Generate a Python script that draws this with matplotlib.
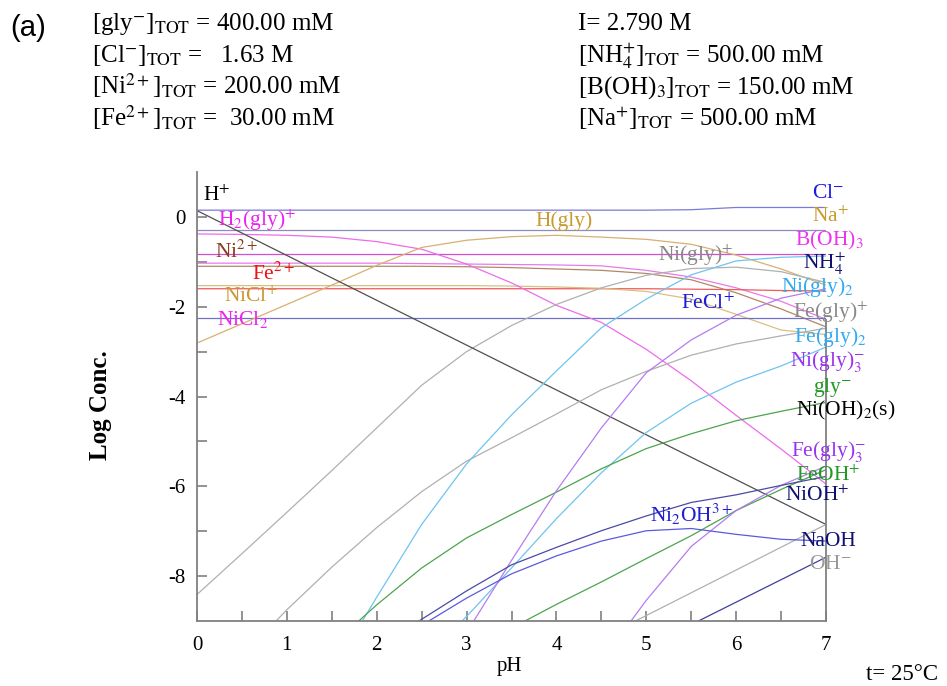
import matplotlib
matplotlib.use("Agg")
import matplotlib.pyplot as plt
import numpy as np

plt.rcParams['font.family'] = ['Liberation Serif', 'DejaVu Serif']
plt.rcParams['mathtext.fontset'] = 'stix'
plt.rcParams['axes.unicode_minus'] = False

# ---------------- data ----------------
ph_full = [0, 0.5, 1, 1.5, 2, 2.5, 3, 3.5, 4, 4.5, 5, 5.5, 6, 6.5, 7]

cl = [0.15, 0.15, 0.15, 0.15, 0.15, 0.15, 0.15, 0.15, 0.15, 0.15, 0.15, 0.16, 0.21, 0.21, 0.21]
na = [-0.30, -0.30, -0.30, -0.30, -0.30, -0.30, -0.30, -0.30, -0.30, -0.30, -0.30, -0.30, -0.30, -0.30, -0.30]
boh3 = [-0.82, -0.82, -0.82, -0.82, -0.82, -0.82, -0.82, -0.82, -0.82, -0.82, -0.82, -0.82, -0.82, -0.82, -0.82]
nicl2 = [-1.03, -1.03, -1.03, -1.03, -1.03, -1.04, -1.05, -1.06, -1.07, -1.09, -1.19, -1.34, -1.58, -1.88, -2.28]
ni2 = [-1.10, -1.10, -1.10, -1.10, -1.10, -1.10, -1.11, -1.13, -1.16, -1.19, -1.26, -1.40, -1.69, -2.05, -2.45]
fe2 = [-1.60, -1.60, -1.60, -1.60, -1.60, -1.60, -1.60, -1.60, -1.60, -1.60, -1.60, -1.61, -1.62, -1.64, -1.65]
nicl = [-1.53, -1.53, -1.53, -1.53, -1.53, -1.53, -1.53, -1.54, -1.56, -1.59, -1.66, -1.83, -2.17, -2.52, -2.62]
fecl = [-2.26, -2.26, -2.26, -2.26, -2.26, -2.26, -2.26, -2.26, -2.26, -2.26, -2.26, -2.26, -2.26, -2.26, -2.26]
h2gly = [-0.38, -0.39, -0.41, -0.45, -0.55, -0.72, -1.05, -1.47, -1.97, -2.35, -2.95, -3.65, -4.42, -5.17, -5.95]
hgly = [-2.81, -2.38, -1.95, -1.52, -1.08, -0.68, -0.52, -0.44, -0.41, -0.45, -0.50, -0.61, -0.85, -1.16, -1.52]
nigly = [-8.41, -7.50, -6.58, -5.65, -4.70, -3.75, -3.00, -2.42, -1.95, -1.58, -1.30, -1.15, -1.12, -1.22, -1.46]

ph_h = [0, 7]
h_plus = [0.14, -6.85]
ph_oh = [4.88, 7]
oh_minus = [-9.0, -6.85]
ph_naoh = [5.58, 7]
naoh = [-9.0, -7.58]

ph_fegly = [0.88, 1, 1.5, 2, 2.5, 3, 3.5, 4, 4.5, 5, 5.5, 6, 6.5, 7]
fegly = [-9.0, -8.75, -7.80, -6.92, -6.12, -5.44, -4.92, -4.39, -3.85, -3.44, -3.08, -2.83, -2.65, -2.48]

ph_nigly2 = [1.84, 2, 2.5, 3, 3.5, 4, 4.5, 5, 5.5, 6, 6.5, 7]
nigly2 = [-9.0, -8.47, -6.85, -5.50, -4.41, -3.43, -2.47, -1.83, -1.29, -0.98, -0.90, -0.87]

ph_fegly2 = [2.95, 3, 3.5, 4, 4.5, 5, 5.5, 6, 6.5, 7]
fegly2 = [-9.0, -8.90, -7.82, -6.72, -5.70, -4.80, -4.15, -3.68, -3.32, -2.90]

ph_gly = [1.8, 2, 2.5, 3, 3.5, 4, 4.5, 5, 5.5, 6, 6.5, 7]
gly = [-9.0, -8.64, -7.82, -7.15, -6.63, -6.13, -5.61, -5.16, -4.83, -4.54, -4.33, -4.13]

ph_feoh = [3.65, 4, 4.5, 5, 5.5, 6, 6.5, 7]
feoh = [-9.0, -8.63, -8.13, -7.61, -7.10, -6.54, -6.07, -5.63]

ph_nigly3 = [3.08, 3.5, 4, 4.5, 5, 5.5, 6, 6.5, 7]
nigly3 = [-9.0, -7.65, -6.10, -4.70, -3.47, -2.74, -2.19, -1.81, -1.60]

ph_fegly3 = [4.83, 5, 5.5, 6, 6.5, 7]
fegly3 = [-9.0, -8.54, -7.34, -6.54, -5.98, -5.55]

ph_ni2oh = [2.58, 3, 3.5, 4, 4.5, 5, 5.5, 6, 6.5, 7]
ni2oh = [-9.0, -8.49, -7.95, -7.55, -7.22, -6.99, -6.94, -7.07, -7.18, -7.22]

ph_nioh = [2.47, 3, 3.5, 4, 4.5, 5, 5.5, 6, 6.5, 7]
nioh = [-9.0, -8.33, -7.75, -7.36, -6.99, -6.66, -6.36, -6.19, -5.98, -5.78]

header_left = [
    "[gly$^{-}$]$_{\\mathrm{TOT}}$ = 400.00 mM",
    "[Cl$^{-}$]$_{\\mathrm{TOT}}$ =   1.63 M",
    "[Ni$^{2+}$]$_{\\mathrm{TOT}}$ = 200.00 mM",
    "[Fe$^{2+}$]$_{\\mathrm{TOT}}$ =  30.00 mM",
]
header_right = [
    "I= 2.790 M",
    "[NH$_{4}^{+}$]$_{\\mathrm{TOT}}$ = 500.00 mM",
    "[B(OH)$_{3}$]$_{\\mathrm{TOT}}$ = 150.00 mM",
    "[Na$^{+}$]$_{\\mathrm{TOT}}$ = 500.00 mM",
]

# ---------------- figure ----------------
W, H = 947, 686
fig = plt.figure(figsize=(W / 100, H / 100), dpi=100)
ax = fig.add_axes([197 / W, 65 / H, 629 / W, 449 / H])

series = [
    (ph_full, cl, '#7a7ad8'),
    (ph_full, na, '#8c8cc0'),
    (ph_full, boh3, '#d24fd2'),
    (ph_full, nicl2, '#e87ae8'),
    (ph_full, ni2, '#b08868'),
    (ph_full, fe2, '#ef5a5a'),
    (ph_full, nicl, '#dcbf80'),
    (ph_full, fecl, '#7070c8'),
    (ph_full, h2gly, '#ec6cec'),
    (ph_full, hgly, '#d8b070'),
    (ph_full, nigly, '#b0b0b0'),
    (ph_h, h_plus, '#505050'),
    (ph_oh, oh_minus, '#b0b0b0'),
    (ph_naoh, naoh, '#40409a'),
    (ph_fegly, fegly, '#b0b0b0'),
    (ph_nigly2, nigly2, '#6ec4f0'),
    (ph_fegly2, fegly2, '#6ec4f0'),
    (ph_gly, gly, '#4ca44c'),
    (ph_feoh, feoh, '#4ca44c'),
    (ph_nigly3, nigly3, '#b47cf0'),
    (ph_fegly3, fegly3, '#b47cf0'),
    (ph_ni2oh, ni2oh, '#5a5ae0'),
    (ph_nioh, nioh, '#4a4aa8'),
]
for x, y, c in series:
    ax.plot(x, y, color=c, lw=0.9, solid_joinstyle='round')

ax.set_xlim(0, 7)
ax.set_ylim(-9, 1)

spine_c = '#808080'
ax.spines['top'].set_visible(False)
for s in ('left', 'bottom', 'right'):
    ax.spines[s].set_color(spine_c)
    ax.spines[s].set_linewidth(1.3)
ax.spines['right'].set_bounds(-9, -2.3)

ax.set_xticks(np.arange(0, 8, 1))
ax.set_xticks(np.arange(0, 7.01, 0.5), minor=True)
ax.set_yticks([-8, -6, -4, -2, 0])
ax.set_yticks([-7, -5, -3, -1], minor=True)
ax.tick_params(which='both', direction='in', length=7, width=1.2, color=spine_c,
               right=False, top=False)
ax.tick_params(axis='x', which='major', labelsize=15, pad=11)
ax.tick_params(axis='y', which='major', labelsize=15, pad=8)

# species labels
labels = [
    ("H$^{+}$", 0.07, 0.46, 'black'),
    ("H$_{2}$(gly)$^{+}$", 0.23, -0.08, '#ee22ee'),
    ("Ni$^{2+}$", 0.20, -0.77, '#8b3a1a'),
    ("Fe$^{2+}$", 0.61, -1.26, '#ee1111'),
    ("NiCl$^{+}$", 0.30, -1.77, '#c89a30'),
    ("NiCl$_{2}$", 0.22, -2.28, '#ee22ee'),
    ("H(gly)", 3.77, -0.10, '#c89a30'),
    ("Ni(gly)$^{+}$", 5.13, -0.86, '#888888'),
    ("FeCl$^{+}$", 5.39, -1.93, '#1a1adc'),
    ("Ni$_{2}$OH$^{3+}$", 5.04, -6.63, '#2020d0'),
    ("Cl$^{-}$", 6.84, 0.52, '#1a1ae0'),
    ("Na$^{+}$", 6.84, 0.01, '#c89a30'),
    ("B(OH)$_{3}$", 6.65, -0.52, '#ee33ee'),
    ("NH$_{4}^{+}$", 6.74, -1.04, '#101070'),
    ("Ni(gly)$_{2}$", 6.50, -1.57, '#33aaee'),
    ("Fe(gly)$^{+}$", 6.63, -2.13, '#888888'),
    ("Fe(gly)$_{2}$", 6.64, -2.68, '#33aaee'),
    ("Ni(gly)$_{3}^{-}$", 6.60, -3.22, '#9933ee'),
    ("gly$^{-}$", 6.85, -3.80, '#229922'),
    ("Ni(OH)$_{2}$(s)", 6.67, -4.31, 'black'),
    ("Fe(gly)$_{3}^{-}$", 6.61, -5.22, '#9933ee'),
    ("FeOH$^{+}$", 6.67, -5.76, '#229922'),
    ("NiOH$^{+}$", 6.54, -6.22, '#101070'),
    ("NaOH", 6.72, -7.24, '#101070'),
    ("OH$^{-}$", 6.81, -7.75, '#999999'),
]
for t, x, y, c in labels:
    ax.text(x, y, t, color=c, fontsize=15.5, ha='left', va='center', clip_on=False)

# axis titles and annotations
fig.text(100 / W, 1 - 405 / H, "Log Conc.", rotation=90, fontsize=18,
         fontweight='bold', ha='center', va='center')
fig.text(509 / W, 1 - 666 / H, "pH", fontsize=15, ha='center', va='center')
fig.text(866 / W, 1 - 674 / H, "t= 25°C", fontsize=16.5, ha='left', va='center')
fig.text(10 / W, 1 - 28 / H, "(a)", fontsize=21, ha='left', va='center',
         family=['Liberation Sans', 'DejaVu Sans'])

baselines = [30, 62, 94, 126]
for t, b in zip(header_left, baselines):
    fig.text(92 / W, 1 - b / H, t, fontsize=18, ha='left', va='baseline')
for t, b in zip(header_right, baselines):
    fig.text(578 / W, 1 - b / H, t, fontsize=18, ha='left', va='baseline')

fig.savefig("out.png", dpi=100)
